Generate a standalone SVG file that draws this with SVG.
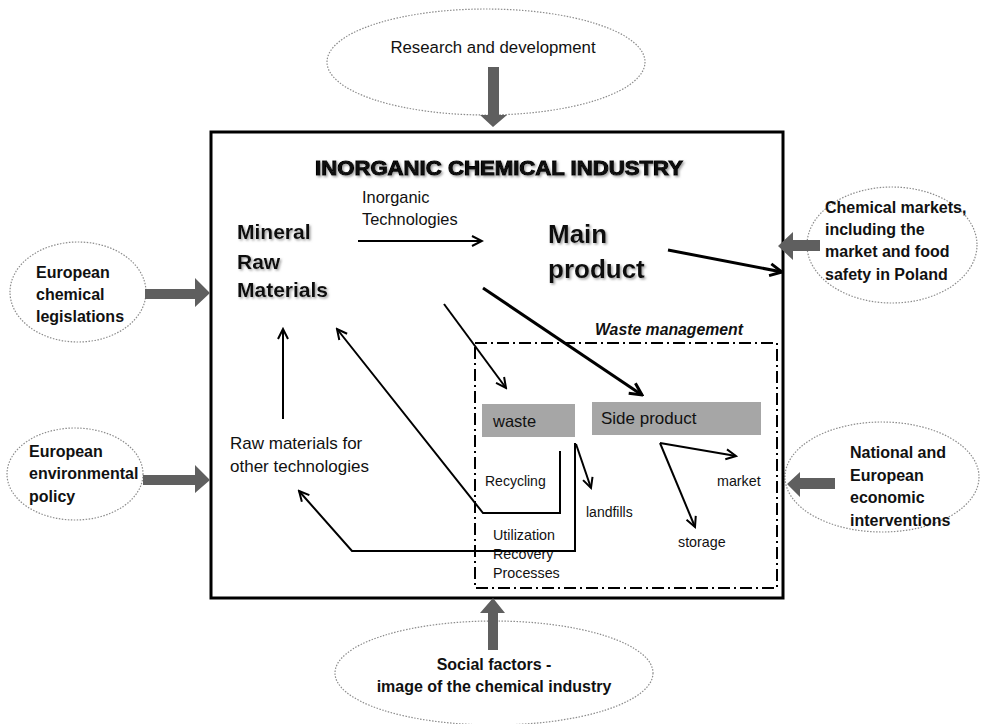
<svg xmlns="http://www.w3.org/2000/svg" width="988" height="724" viewBox="0 0 988 724">
<defs>
<style>
.ell{fill:#fff;stroke:#8c8c8c;stroke-width:1.2;stroke-dasharray:1.5 1.5}
.t{font-family:"Liberation Sans",Arial,sans-serif;fill:#111}
.b{font-weight:bold}
.ln{fill:none;stroke:#000;stroke-width:2}
.lnT{fill:none;stroke:#000;stroke-width:3}
.blk{fill:#5f5f5f}
.gbox{fill:#a6a6a6}
</style>
<marker id="ah" viewBox="0 0 14 14" refX="12" refY="7" markerWidth="14" markerHeight="14" markerUnits="userSpaceOnUse" orient="auto">
<path d="M2,2 L12,7 L2,12" fill="none" stroke="#000" stroke-width="2"/>
</marker>
<marker id="ahT" viewBox="0 0 16 16" refX="14" refY="8" markerWidth="16" markerHeight="16" markerUnits="userSpaceOnUse" orient="auto">
<path d="M2,2 L14,8 L2,14" fill="none" stroke="#000" stroke-width="3"/>
</marker>
<filter id="sh" x="-10%" y="-30%" width="120%" height="160%">
<feDropShadow dx="1.5" dy="1.5" stdDeviation="1" flood-color="#777" flood-opacity="0.7"/>
</filter>
</defs>
<rect width="988" height="724" fill="#fff"/>

<g id="research">
<ellipse class="ell" cx="486" cy="62" rx="159" ry="53"/>
<text class="t" x="493" y="53" font-size="16.8" text-anchor="middle">Research and development</text>
</g>
<g id="chem-leg">
<ellipse class="ell" cx="78" cy="292" rx="68" ry="50"/>
<text class="t b" x="36" y="278" font-size="16">European</text>
<text class="t b" x="36" y="300" font-size="16">chemical</text>
<text class="t b" x="36" y="322" font-size="16">legislations</text>
</g>
<g id="env-policy">
<ellipse class="ell" cx="75" cy="474" rx="68" ry="46"/>
<text class="t b" x="29" y="457" font-size="16">European</text>
<text class="t b" x="29" y="479" font-size="16">environmental</text>
<text class="t b" x="29" y="502" font-size="16">policy</text>
</g>
<g id="markets">
<ellipse class="ell" cx="892" cy="245" rx="85" ry="58"/>
<text class="t b" x="825" y="213" font-size="16">Chemical markets,</text>
<text class="t b" x="825" y="235" font-size="16">including the</text>
<text class="t b" x="825" y="257" font-size="16">market and food</text>
<text class="t b" x="825" y="280" font-size="16">safety in Poland</text>
</g>
<g id="national">
<ellipse class="ell" cx="882" cy="477" rx="97" ry="55"/>
<text class="t b" x="850" y="458" font-size="16">National and</text>
<text class="t b" x="850" y="481" font-size="16">European</text>
<text class="t b" x="850" y="503" font-size="16">economic</text>
<text class="t b" x="850" y="526" font-size="16">interventions</text>
</g>
<g id="social">
<ellipse class="ell" cx="494" cy="673" rx="159" ry="52"/>
<text class="t b" x="494" y="670" font-size="16" text-anchor="middle">Social factors -</text>
<text class="t b" x="494" y="692" font-size="16" text-anchor="middle">image of the chemical industry</text>
</g>

<g id="industry">
<rect x="211" y="132" width="572" height="466" fill="none" stroke="#000" stroke-width="3"/>
<text class="t" x="315" y="175" font-size="20" font-weight="900" stroke="#000" stroke-width="1" textLength="368" lengthAdjust="spacingAndGlyphs" filter="url(#sh)">INORGANIC  CHEMICAL INDUSTRY</text>
</g>
<g id="mineral">
<text class="t b" x="237" y="239" font-size="21" filter="url(#sh)">Mineral</text>
<text class="t b" x="237" y="269" font-size="21" filter="url(#sh)">Raw</text>
<text class="t b" x="237" y="297" font-size="21" filter="url(#sh)">Materials</text>
</g>
<g id="tech-label">
<text class="t" x="362" y="203" font-size="16.4">Inorganic</text>
<text class="t" x="362" y="225" font-size="16.4">Technologies</text>
</g>
<g id="main-product">
<text class="t b" x="548" y="243" font-size="26" filter="url(#sh)">Main</text>
<text class="t b" x="548" y="278" font-size="26" filter="url(#sh)">product</text>
</g>
<g id="raw-other">
<text class="t" x="230" y="449" font-size="17">Raw materials for</text>
<text class="t" x="230" y="472" font-size="17">other technologies</text>
</g>
<g id="waste-mgmt">
<rect x="475" y="343" width="302" height="245" fill="none" stroke="#000" stroke-width="2" stroke-dasharray="12 4 2 4"/>
<text class="t b" x="595" y="335" font-size="16" font-style="italic" textLength="148" lengthAdjust="spacingAndGlyphs">Waste management</text>
</g>
<g id="waste">
<rect class="gbox" x="482" y="404" width="93" height="33"/>
<text class="t" x="493" y="427" font-size="16.5">waste</text>
</g>
<g id="side-product">
<rect class="gbox" x="592" y="402" width="169" height="33"/>
<text class="t" x="601" y="424" font-size="17">Side product</text>
</g>
<g id="labels">
<text class="t" x="485" y="486" font-size="14">Recycling</text>
<text class="t" x="586" y="517" font-size="14">landfills</text>
<text class="t" x="493" y="540" font-size="14.3">Utilization</text>
<text class="t" x="493" y="559" font-size="14.3">Recovery</text>
<text class="t" x="493" y="578" font-size="14.3">Processes</text>
<text class="t" x="717" y="486" font-size="14.3">market</text>
<text class="t" x="678" y="547" font-size="14.3">storage</text>
</g>

<g id="connectors">
<polygon class="blk" points="488,67 499,67 499,115 507,115 493,127 480,115 488,115"/>
<polygon class="blk" points="145,289 195,289 195,278 210,293 195,307 195,299 145,299"/>
<polygon class="blk" points="143,475 195,475 195,465 210,480 195,493 195,485 143,485"/>
<polygon class="blk" points="820,240 793,240 793,232 778,246 793,260 793,251 820,251"/>
<polygon class="blk" points="835,478 800,478 800,472 787,484 800,497 800,489 835,489"/>
<polygon class="blk" points="488,650 498,650 498,613 505,613 493,598 480,613 488,613"/>
<path class="ln" d="M358,241 L482,241" marker-end="url(#ah)"/>
<path class="lnT" d="M668,250 L782,272" marker-end="url(#ahT)"/>
<path class="ln" d="M444,304 L506,388" marker-end="url(#ah)"/>
<path class="lnT" d="M483,288 L642,395" marker-end="url(#ahT)"/>
<path class="ln" d="M560,451 L560,513 L483,513 L337,329" marker-end="url(#ah)"/>
<path class="ln" d="M575,443 L575,551 L352,551 L299,491" marker-end="url(#ah)"/>
<path class="ln" d="M576,444 L591,488" marker-end="url(#ah)"/>
<path class="ln" d="M283,419 L283,329" marker-end="url(#ah)"/>
<path class="ln" d="M660,443 L736,456" marker-end="url(#ah)"/>
<path class="ln" d="M660,443 L695,527" marker-end="url(#ah)"/>
</g>
</svg>
